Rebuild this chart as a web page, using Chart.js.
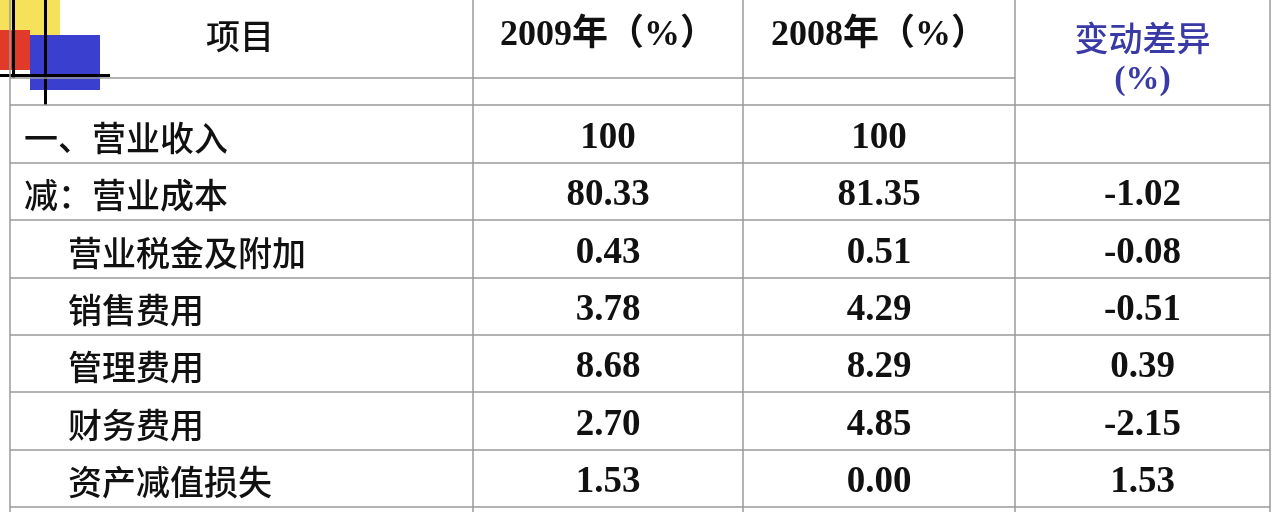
<!DOCTYPE html>
<html><head><meta charset="utf-8">
<script src="https://cdn.jsdelivr.net/npm/chart.js@4/dist/chart.umd.min.js"></script>
<style>html,body{margin:0;background:#fff}#wrap{width:1280px;height:512px}</style>
</head><body><div id="wrap"><canvas id="tbl"></canvas></div>
<script>
const headers = ['项目', '2009年（%）', '2008年（%）', '变动差异'];
const items = ['一、营业收入', '减：营业成本', '营业税金及附加', '销售费用', '管理费用', '财务费用', '资产减值损失'];
const indent = [false, false, true, true, true, true, true];
const y2009 = ['100', '80.33', '0.43', '3.78', '8.68', '2.70', '1.53'];
const y2008 = ['100', '81.35', '0.51', '4.29', '8.29', '4.85', '0.00'];
const diff = ['', '-1.02', '-0.08', '-0.51', '0.39', '-2.15', '1.53'];

// layout (pixels in a 1280x512 value space)
const colEdges = [10, 473, 743, 1015, 1270];
const rowEdges = [105, 163, 220, 278, 335, 392, 450, 507];

const tablePlugin = {
  id: 'table',
  afterDraw(chart) {
    const c = chart.ctx, xs = chart.scales.x, ys = chart.scales.y;
    const X = v => xs.getPixelForValue(v), Y = v => ys.getPixelForValue(v);
    // decoration top-left
    c.fillStyle = '#f5e25a'; c.fillRect(X(0), Y(0), 60, 60);
    c.fillStyle = '#e23a2a'; c.fillRect(X(0), Y(30), 30, 40);
    c.fillStyle = '#3b3fd0'; c.fillRect(X(30), Y(35), 70, 55);
    c.fillStyle = '#000'; c.fillRect(X(12), Y(0), 3, 78); c.fillRect(X(44), Y(0), 3, 105);
    c.fillRect(X(0), Y(74), 110, 3);
    // grid
    c.strokeStyle = '#9a9a9a'; c.lineWidth = 1.5;
    c.beginPath();
    colEdges.forEach(e => { c.moveTo(X(e), Y(0)); c.lineTo(X(e), Y(512)); });
    c.moveTo(X(colEdges[0]), Y(78)); c.lineTo(X(colEdges[3]), Y(78));
    rowEdges.forEach(e => { c.moveTo(X(colEdges[0]), Y(e)); c.lineTo(X(colEdges[4]), Y(e)); });
    c.stroke();
    const mid = i => (colEdges[i] + colEdges[i + 1]) / 2;
    c.textBaseline = 'middle';
    // header
    c.textAlign = 'center'; c.fillStyle = '#111';
    c.font = '500 34px "Noto Sans CJK SC"'; c.fillText(headers[0], X(240), Y(36));
    c.font = 'bold 36px "Liberation Serif","Noto Sans CJK SC"';
    c.fillText(headers[1], X(mid(1)), Y(36)); c.fillText(headers[2], X(mid(2)), Y(36));
    c.fillStyle = '#3a3aa6';
    c.font = '500 34px "Noto Sans CJK SC"'; c.fillText(headers[3], X(mid(3)), Y(38));
    c.font = 'bold 34px "Liberation Serif"'; c.fillText('(%)', X(mid(3)), Y(80));
    // body
    items.forEach((name, r) => {
      const cy = Y((rowEdges[r] + rowEdges[r + 1]) / 2 + 4);
      c.fillStyle = '#111'; c.textAlign = 'left';
      c.font = '500 34px "Noto Sans CJK SC"';
      c.fillText(name, X(indent[r] ? 68 : 24), cy);
      c.textAlign = 'center'; c.font = 'bold 37px "Liberation Serif"';
      c.fillText(y2009[r], X(mid(1)), cy);
      c.fillText(y2008[r], X(mid(2)), cy);
      c.fillText(diff[r], X(mid(3)), cy);
    });
  }
};

new Chart(document.getElementById('tbl'), {
  type: 'scatter',
  data: { datasets: [{ data: [] }] },
  options: {
    responsive: true, maintainAspectRatio: false, animation: false,
    layout: { padding: 0 },
    plugins: { legend: { display: false }, tooltip: { enabled: false } },
    scales: {
      x: { type: 'linear', min: 0, max: 1280, display: false },
      y: { type: 'linear', min: 0, max: 512, reverse: true, display: false }
    }
  },
  plugins: [tablePlugin]
});
</script></body></html>
